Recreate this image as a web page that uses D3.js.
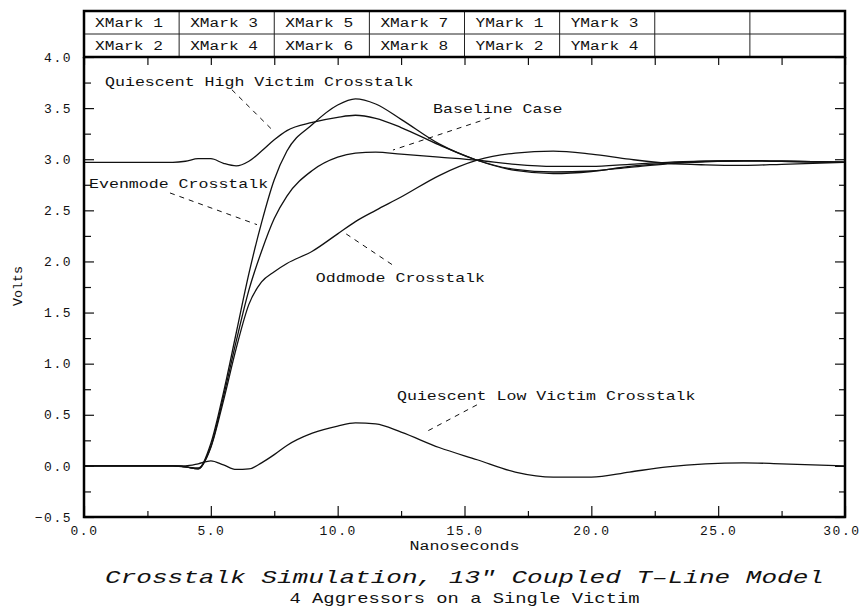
<!DOCTYPE html>
<html>
<head>
<meta charset="utf-8">
<script src="https://cdn.jsdelivr.net/npm/d3@7"></script>
<style>
body { margin: 0; background: #fff; }
text { font-family: "Liberation Mono", "Courier New", monospace; fill: #111; }
</style>
</head>
<body>
<div id="chart"></div>
<script>
// values (time in ns, volts)
var timeNs = [0, 3.5, 4.0, 4.5, 5.0, 5.5, 6.0, 6.5, 7.0, 7.5, 8.0, 9.0, 10.0, 10.7, 11.5, 12.5, 14.0, 15.5, 17.0, 18.5, 20.0, 21.5, 23.0, 24.5, 26.0, 27.5, 30.0];
var evenmode = [0, 0, -0.01, -0.03, 0.22, 0.72, 1.30, 1.88, 2.38, 2.80, 3.08, 3.34, 3.53, 3.59, 3.54, 3.39, 3.15, 2.99, 2.89, 2.86, 2.88, 2.93, 2.96, 2.98, 2.985, 2.98, 2.97];
var baseline = [0, 0, -0.01, -0.02, 0.19, 0.68, 1.22, 1.72, 2.10, 2.42, 2.64, 2.89, 3.02, 3.06, 3.07, 3.05, 3.02, 2.99, 2.95, 2.93, 2.93, 2.95, 2.97, 2.98, 2.985, 2.98, 2.97];
var oddmode = [0, 0, -0.01, -0.03, 0.18, 0.64, 1.15, 1.58, 1.80, 1.90, 1.98, 2.10, 2.27, 2.39, 2.50, 2.63, 2.84, 2.99, 3.06, 3.08, 3.05, 3.00, 2.96, 2.945, 2.94, 2.95, 2.97];
var quietHigh = [2.97, 2.97, 2.98, 3.005, 3.005, 2.96, 2.935, 2.98, 3.08, 3.19, 3.28, 3.36, 3.41, 3.43, 3.40, 3.31, 3.14, 2.99, 2.90, 2.875, 2.885, 2.92, 2.955, 2.975, 2.985, 2.98, 2.97];
var quietLow = [0, 0, 0, 0.02, 0.05, 0.01, -0.035, -0.03, 0.03, 0.11, 0.20, 0.32, 0.39, 0.42, 0.41, 0.33, 0.18, 0.06, -0.06, -0.11, -0.11, -0.06, -0.01, 0.02, 0.03, 0.02, 0];

var xMajorTicks = [0, 5, 10, 15, 20, 25, 30];
var xMinorTicks = [2.5, 7.5, 12.5, 17.5, 22.5, 27.5];
var yMajorTicks = [-0.5, 0, 0.5, 1, 1.5, 2, 2.5, 3, 3.5, 4];
var yMinorTicks = [-0.25, 0.25, 0.75, 1.25, 1.75, 2.25, 2.75, 3.25, 3.75];

var markRow1 = ["XMark 1", "XMark 3", "XMark 5", "XMark 7", "YMark 1", "YMark 3", "", ""];
var markRow2 = ["XMark 2", "XMark 4", "XMark 6", "XMark 8", "YMark 2", "YMark 4", "", ""];

// label text, label anchor and leader line (all in data units)
var notes = [
    { text: "Quiescent High Victim Crosstalk", at: [0.83, 3.72], from: [5.83, 3.68], to: [7.41, 3.29] },
    { text: "Baseline Case", at: [13.76, 3.455], from: [16.0, 3.405], to: [12.18, 3.09] },
    { text: "Evenmode Crosstalk", at: [0.2, 2.72], from: [3.39, 2.67], to: [6.82, 2.36] },
    { text: "Oddmode Crosstalk", at: [9.14, 1.80], from: [12.14, 1.97], to: [10.21, 2.29] },
    { text: "Quiescent Low Victim Crosstalk", at: [12.34, 0.646], from: [15.49, 0.597], to: [13.48, 0.333] }
];

var series = [evenmode, baseline, oddmode, quietHigh, quietLow].map(function(vals) {
    return vals.map(function(v, i) { return { t: timeNs[i], v: v }; });
});

// set the dimensions and margins of the graph
var margin = { top: 57, right: 16, bottom: 98, left: 84 },
    width = 861 - margin.left - margin.right,
    height = 615 - margin.top - margin.bottom;

var svg = d3.select("#chart")
    .append("svg")
    .attr("width", width + margin.left + margin.right)
    .attr("height", height + margin.top + margin.bottom)
    .append("g")
    .attr("transform", "translate(" + margin.left + "," + margin.top + ")");

var x = d3.scaleLinear().domain([0, 30]).range([0, width]);
var y = d3.scaleLinear().domain([-0.5, 4]).range([height, 0]);

// ticks on all four sides, pointing inward
function styleAxis(g) {
    g.select(".domain").remove();
    g.selectAll(".tick line").attr("stroke", "#111").attr("stroke-width", 1.2);
    g.selectAll("text")
        .attr("font-family", "'Liberation Mono', monospace")
        .attr("font-size", 13)
        .attr("letter-spacing", "1.5px")
        .attr("fill", "#222");
}

var xAxisG = svg.append("g").attr("transform", "translate(0," + height + ")")
    .call(d3.axisBottom(x).tickValues(xMajorTicks).tickSize(-11).tickSizeOuter(0).tickPadding(9).tickFormat(d3.format(".1f")))
    .call(styleAxis);
// keep the last label inside the page
xAxisG.selectAll(".tick text")
    .filter(d => d === 30)
    .attr("text-anchor", "end")
    .attr("x", 15);

svg.append("g").attr("transform", "translate(0," + height + ")")
    .call(d3.axisBottom(x).tickValues(xMinorTicks).tickSize(-6).tickSizeOuter(0).tickFormat(""))
    .call(styleAxis);
svg.append("g")
    .call(d3.axisTop(x).tickValues(xMajorTicks.concat(xMinorTicks)).tickSize(-8).tickSizeOuter(0).tickFormat(""))
    .call(styleAxis);
svg.append("g")
    .call(d3.axisLeft(y).tickValues(yMajorTicks).tickSize(-10).tickSizeOuter(0).tickPadding(12).tickFormat(d3.format(".1f")))
    .call(styleAxis);
svg.append("g")
    .call(d3.axisLeft(y).tickValues(yMinorTicks).tickSize(-7).tickSizeOuter(0).tickFormat(""))
    .call(styleAxis);
svg.append("g").attr("transform", "translate(" + width + ",0)")
    .call(d3.axisRight(y).tickValues(yMajorTicks).tickSize(-10).tickSizeOuter(0).tickFormat(""))
    .call(styleAxis);
svg.append("g").attr("transform", "translate(" + width + ",0)")
    .call(d3.axisRight(y).tickValues(yMinorTicks).tickSize(-6).tickSizeOuter(0).tickFormat(""))
    .call(styleAxis);

// the curves
var line = d3.line()
    .x(d => x(d.t))
    .y(d => y(d.v))
    .curve(d3.curveMonotoneX);

svg.selectAll(".curve")
    .data(series)
    .enter()
    .append("path")
    .attr("class", "curve")
    .attr("fill", "none")
    .attr("stroke", "#111")
    .attr("stroke-width", 1.3)
    .attr("d", line);

// frame: left, bottom, right
svg.append("path")
    .attr("d", "M0,0V" + height + "H" + width + "V0")
    .attr("fill", "none")
    .attr("stroke", "#000")
    .attr("stroke-width", 2.5);

// marker table above the plot
var rowH = 23, colW = width / markRow1.length;
var table = svg.append("g").attr("transform", "translate(0," + (-2 * rowH) + ")");
[markRow1, markRow2].forEach(function(row, r) {
    table.selectAll(".cell" + r)
        .data(row)
        .enter()
        .append("text")
        .attr("x", (d, i) => i * colW + 11)
        .attr("y", r * rowH + 16)
        .attr("font-size", 12)
        .attr("textLength", d => d.length ? d.length * 9.7 : null)
        .attr("lengthAdjust", "spacingAndGlyphs")
        .text(d => d);
});
table.selectAll(".vline")
    .data(d3.range(1, markRow1.length))
    .enter()
    .append("line")
    .attr("x1", d => d * colW).attr("x2", d => d * colW)
    .attr("y1", 0).attr("y2", 2 * rowH)
    .attr("stroke", "#222").attr("stroke-width", 1);
table.append("line")
    .attr("x1", 0).attr("x2", width)
    .attr("y1", rowH).attr("y2", rowH)
    .attr("stroke", "#222").attr("stroke-width", 1);
table.append("rect")
    .attr("width", width).attr("height", 2 * rowH)
    .attr("fill", "none")
    .attr("stroke", "#000")
    .attr("stroke-width", 2.5);

// annotations with dashed leaders
svg.selectAll(".leader")
    .data(notes)
    .enter()
    .append("line")
    .attr("x1", d => x(d.from[0])).attr("y1", d => y(d.from[1]))
    .attr("x2", d => x(d.to[0])).attr("y2", d => y(d.to[1]))
    .attr("stroke", "#111")
    .attr("stroke-width", 1)
    .attr("stroke-dasharray", "5,5");

svg.selectAll(".note")
    .data(notes)
    .enter()
    .append("text")
    .attr("x", d => x(d.at[0]))
    .attr("y", d => y(d.at[1]))
    .attr("font-size", 13)
    .attr("textLength", d => d.text.length * 9.95)
    .attr("lengthAdjust", "spacingAndGlyphs")
    .text(d => d.text);

// axis titles
svg.append("text")
    .attr("x", width / 2)
    .attr("y", height + 33)
    .attr("text-anchor", "middle")
    .attr("font-size", 12)
    .attr("textLength", 110)
    .attr("lengthAdjust", "spacingAndGlyphs")
    .text("Nanoseconds");

svg.append("text")
    .attr("transform", "translate(" + (-62) + "," + (height / 2 - 1) + ") rotate(-90)")
    .attr("text-anchor", "middle")
    .attr("font-size", 12)
    .attr("textLength", 40)
    .attr("lengthAdjust", "spacingAndGlyphs")
    .text("Volts");

// chart title
svg.append("text")
    .attr("x", width / 2)
    .attr("y", height + 66)
    .attr("text-anchor", "middle")
    .attr("font-size", 19)
    .attr("font-style", "italic")
    .attr("textLength", 719)
    .attr("lengthAdjust", "spacingAndGlyphs")
    .text("Crosstalk Simulation, 13\u2033 Coupled T\u2013Line Model");

svg.append("text")
    .attr("x", width / 2)
    .attr("y", height + 86)
    .attr("text-anchor", "middle")
    .attr("font-size", 15)
    .attr("textLength", 350)
    .attr("lengthAdjust", "spacingAndGlyphs")
    .text("4 Aggressors on a Single Victim");
</script>
</body>
</html>
